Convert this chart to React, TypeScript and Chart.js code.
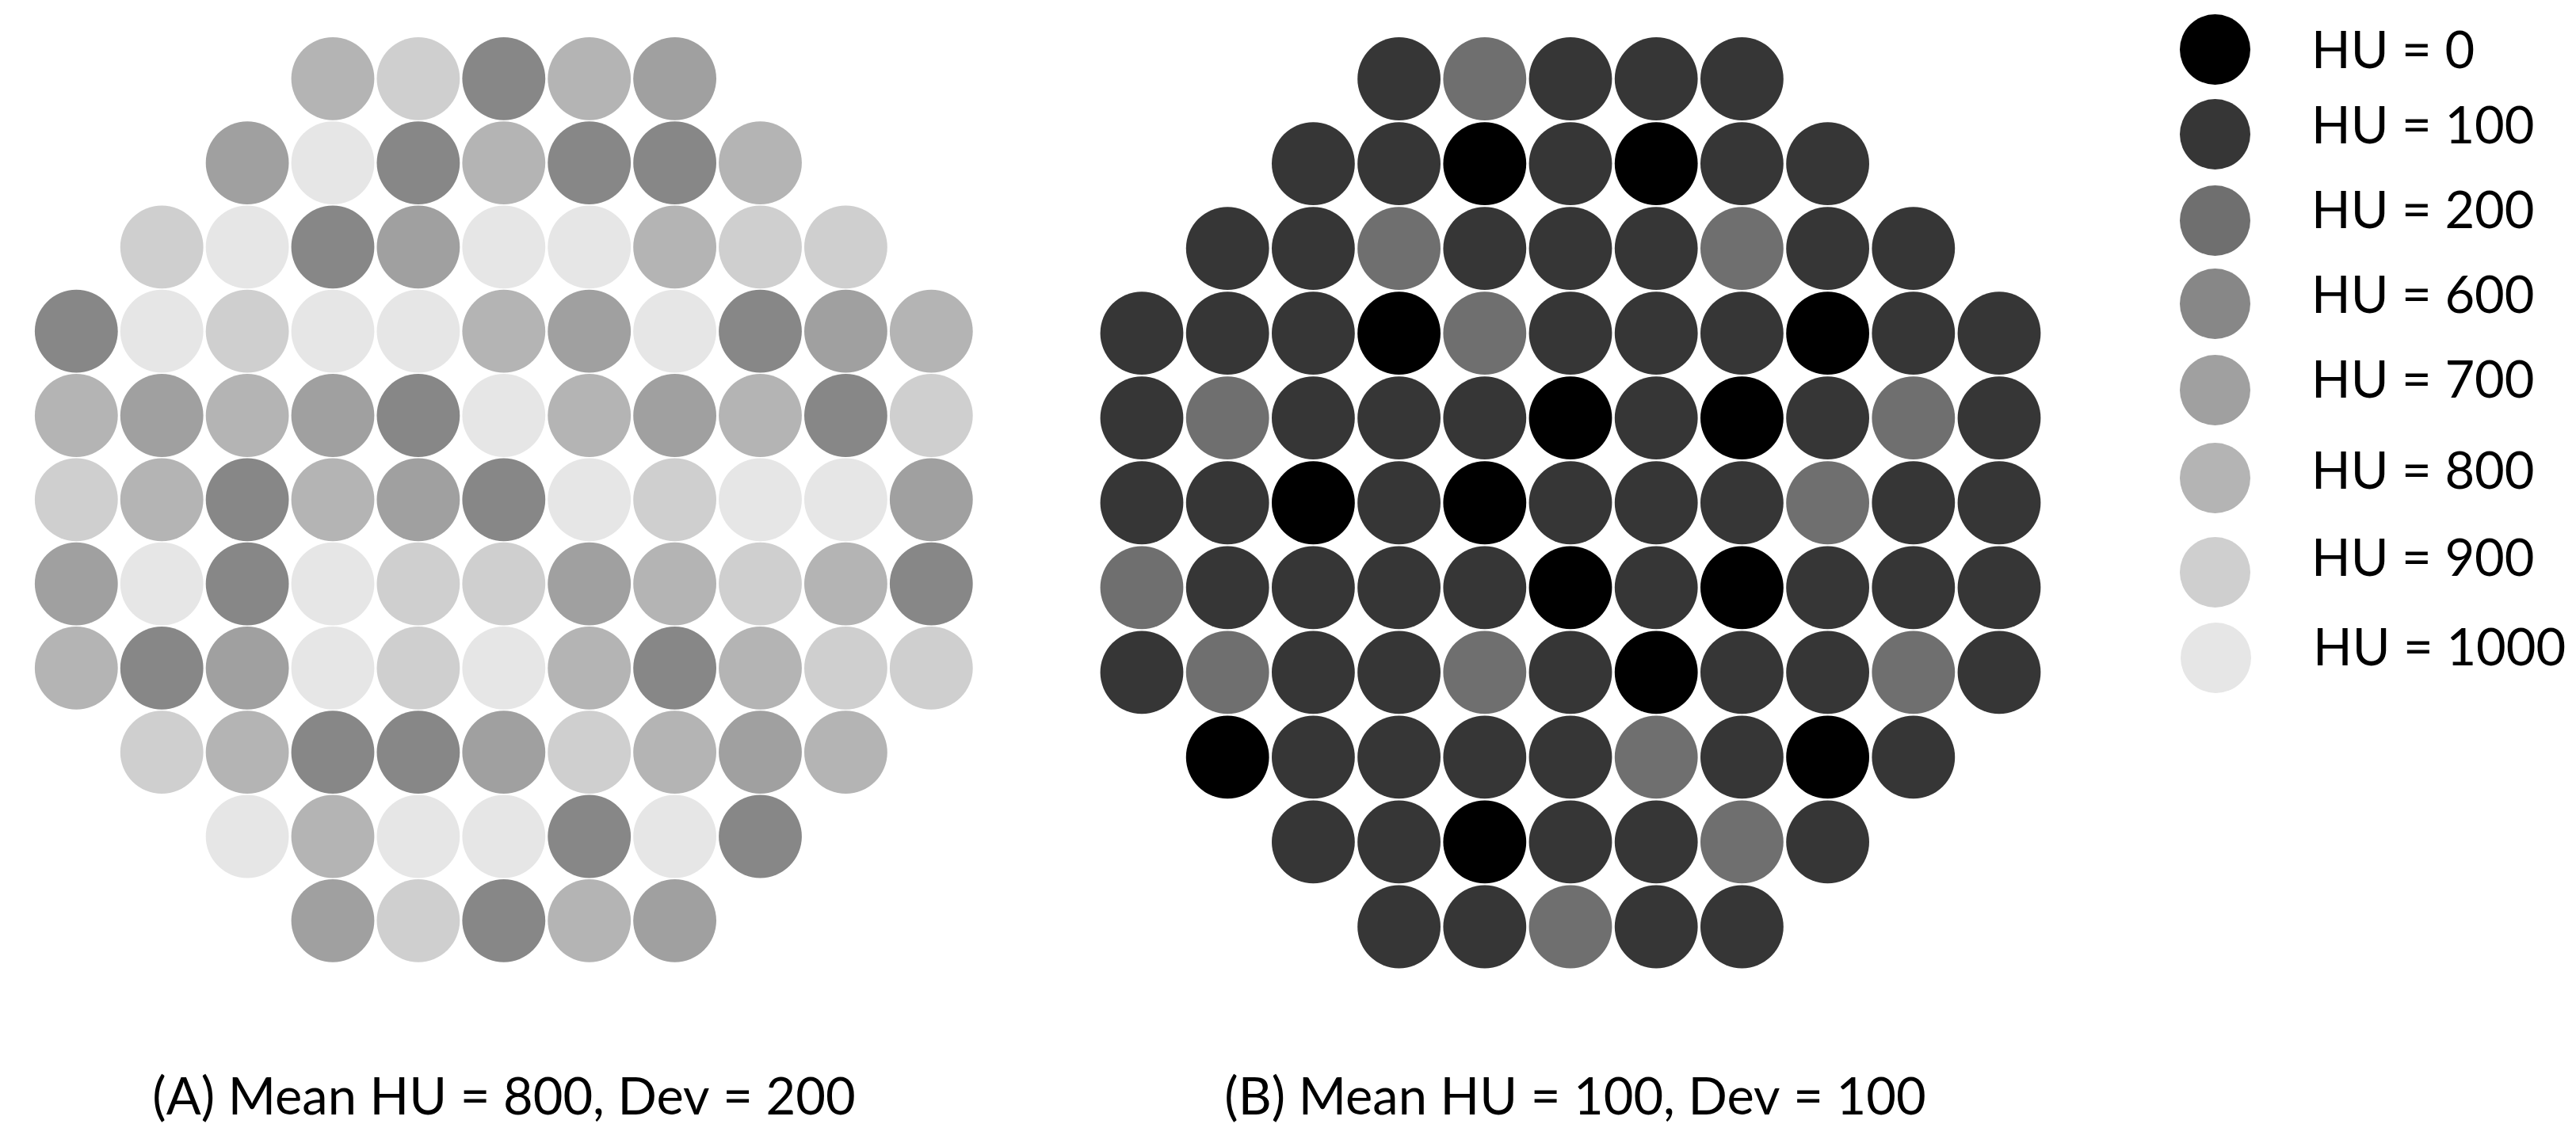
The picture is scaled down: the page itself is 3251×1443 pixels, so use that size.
import React, { useEffect, useRef } from "react";
import { Chart, registerables } from "chart.js";

Chart.register(...registerables);

// ---------- data ----------
const huLevels = [0, 100, 200, 600, 700, 800, 900, 1000];
const huLabels = huLevels.map((v) => `HU = ${v}`);
const huColors = ["#000000", "#363636", "#6f6f6f", "#878787", "#a0a0a0", "#b4b4b4", "#cfcfcf", "#e6e6e6"];

// Panel A rows (top to bottom), HU value of each rod, left to right
const panelARows: number[][] = [
  [800, 900, 600, 800, 700],
  [700, 1000, 600, 800, 600, 600, 800],
  [900, 1000, 600, 700, 1000, 1000, 800, 900, 900],
  [600, 1000, 900, 1000, 1000, 800, 700, 1000, 600, 700, 800],
  [800, 700, 800, 700, 600, 1000, 800, 700, 800, 600, 900],
  [900, 800, 600, 800, 700, 600, 1000, 900, 1000, 1000, 700],
  [700, 1000, 600, 1000, 900, 900, 700, 800, 900, 800, 600],
  [800, 600, 700, 1000, 900, 1000, 800, 600, 800, 900, 900],
  [900, 800, 600, 600, 700, 900, 800, 700, 800],
  [1000, 800, 1000, 1000, 600, 1000, 600],
  [700, 900, 600, 800, 700],
];

// Panel B rows
const panelBRows: number[][] = [
  [100, 200, 100, 100, 100],
  [100, 100, 0, 100, 0, 100, 100],
  [100, 100, 200, 100, 100, 100, 200, 100, 100],
  [100, 100, 100, 0, 200, 100, 100, 100, 0, 100, 100],
  [100, 200, 100, 100, 100, 0, 100, 0, 100, 200, 100],
  [100, 100, 0, 100, 0, 100, 100, 100, 200, 100, 100],
  [200, 100, 100, 100, 100, 0, 100, 0, 100, 100, 100],
  [100, 200, 100, 100, 200, 100, 0, 100, 100, 200, 100],
  [0, 100, 100, 100, 100, 200, 100, 0, 100],
  [100, 100, 0, 100, 100, 200, 100],
  [100, 100, 200, 100, 100],
];

const captionA = "(A) Mean HU = 800, Dev = 200";
const captionB = "(B) Mean HU = 100, Dev = 100";

// ---------- layout ----------
const PAGE_W = 3251;
const PAGE_H = 1443;
const GRID_COLS = 11;
const FONT_FAMILY = "Lato, 'Open Sans', sans-serif";
const FONT_SIZE = 65;
const TITLE_PAD_TOP = 0;
const TITLE_PAD_BOTTOM = 18;

type PanelLayout = { left: number; width: number; x0: number; dx: number; y0: number; dy: number; r: number };

const layoutA: PanelLayout = { left: 0, width: 1272, x0: 96.3, dx: 107.9, y0: 99.3, dy: 106.3, r: 52.4 };
const layoutB: PanelLayout = { left: 1360, width: 1256, x0: 1441, dx: 108.2, y0: 99.5, dy: 107.05, r: 52.4 };

const legendCircleX = 2795;
const legendCircleR = 44.5;
const legendCircleY = [62.5, 169.5, 278, 383, 492.5, 603, 722, 830];
const legendTextX = 2917;
const legendTextY = [63, 158, 265, 372, 479, 594, 704, 817];

function buildPoints(rows: number[][], hu: number) {
  const pts: { x: number; y: number }[] = [];
  rows.forEach((row, r) => {
    const start = (GRID_COLS - row.length) / 2;
    row.forEach((v, i) => {
      if (v === hu) pts.push({ x: start + i, y: r });
    });
  });
  return pts;
}

function Panel({ rows, caption, layout }: { rows: number[][]; caption: string; layout: PanelLayout }) {
  const ref = useRef<HTMLCanvasElement | null>(null);
  useEffect(() => {
    if (!ref.current) return;
    const titleBlock = FONT_SIZE * 1.2 + TITLE_PAD_TOP + TITLE_PAD_BOTTOM;
    const plotH = PAGE_H - titleBlock;
    const xMin = -(layout.x0 - layout.left) / layout.dx;
    const xMax = xMin + layout.width / layout.dx;
    const yMin = -layout.y0 / layout.dy;
    const yMax = yMin + plotH / layout.dy;

    const datasets = huLevels
      .map((hu, k) => ({
        label: huLabels[k],
        data: buildPoints(rows, hu),
        backgroundColor: huColors[k],
        borderColor: huColors[k],
        borderWidth: 0,
        pointRadius: layout.r,
        pointHoverRadius: layout.r,
        pointBorderWidth: 0,
        clip: false as any,
      }))
      .filter((ds) => ds.data.length > 0);

    const chart = new Chart(ref.current, {
      type: "scatter",
      data: { datasets },
      options: {
        responsive: false,
        animation: false,
        events: [],
        layout: { padding: 0, autoPadding: false },
        plugins: {
          legend: { display: false },
          tooltip: { enabled: false },
          title: {
            display: true,
            position: "bottom",
            text: caption,
            color: "#000000",
            font: { family: FONT_FAMILY, size: FONT_SIZE, weight: "normal", lineHeight: 1.2 },
            padding: { top: TITLE_PAD_TOP, bottom: TITLE_PAD_BOTTOM },
          },
        },
        scales: {
          x: { type: "linear", display: false, min: xMin, max: xMax },
          y: { type: "linear", display: false, reverse: true, min: yMin, max: yMax },
        },
      },
    });
    let alive = true;
    if ((document as any).fonts && (document as any).fonts.load) {
      (document as any).fonts.load(`${FONT_SIZE}px Lato`).then(() => {
        if (alive) chart.update();
      });
    }
    return () => {
      alive = false;
      chart.destroy();
    };
  }, [rows, caption, layout]);
  return (
    <canvas
      ref={ref}
      width={layout.width}
      height={PAGE_H}
      style={{ position: "absolute", left: layout.left, top: 0, width: layout.width, height: PAGE_H, display: "block" }}
    />
  );
}

function Legend() {
  return (
    <>
      {huLevels.map((hu, k) => (
        <React.Fragment key={hu}>
          <div
            style={{
              position: "absolute",
              left: legendCircleX - legendCircleR + (k === huLevels.length - 1 ? 1.5 : 0),
              top: legendCircleY[k] - legendCircleR,
              width: legendCircleR * 2,
              height: legendCircleR * 2,
              borderRadius: "50%",
              background: huColors[k],
            }}
          />
          <div
            style={{
              position: "absolute",
              left: legendTextX + (k === huLevels.length - 1 ? 2 : 0),
              top: legendTextY[k] - FONT_SIZE * 0.529,
              fontFamily: FONT_FAMILY,
              fontSize: FONT_SIZE,
              lineHeight: `${FONT_SIZE}px`,
              color: "#000",
              whiteSpace: "nowrap",
            }}
          >
            {huLabels[k]}
          </div>
        </React.Fragment>
      ))}
    </>
  );
}

export default function App() {
  return (
    <div
      style={{
        position: "absolute",
        left: 0,
        top: 0,
        width: PAGE_W,
        height: PAGE_H,
        background: "#ffffff",
        overflow: "hidden",
      }}
    >
      <Panel rows={panelARows} caption={captionA} layout={layoutA} />
      <Panel rows={panelBRows} caption={captionB} layout={layoutB} />
      <Legend />
    </div>
  );
}
